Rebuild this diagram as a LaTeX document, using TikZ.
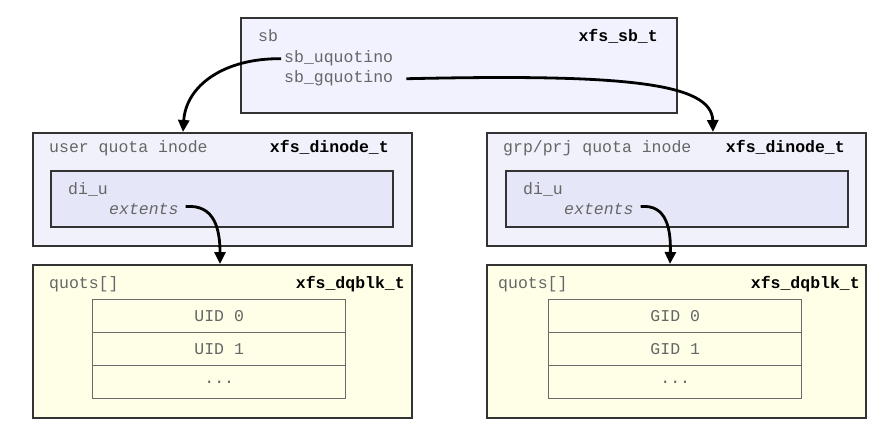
\documentclass[tikz,border=0pt]{standalone}
\usepackage{fontspec}
\setmonofont{Liberation Mono}
\usetikzlibrary{arrows.meta,calc}
\definecolor{sbfill}{HTML}{F2F2FE}
\definecolor{inofill}{HTML}{F1F1FC}
\definecolor{innerfill}{HTML}{E5E7F8}
\definecolor{qfill}{HTML}{FFFFE8}
\definecolor{txtgray}{HTML}{666666}
\definecolor{boxline}{HTML}{333333}
\definecolor{rowline}{HTML}{6A6A6A}
\tikzset{
  box/.style={draw=boxline, line width=1.6pt, rectangle, inner sep=0pt, anchor=north west},
  rowbox/.style={draw=rowline, line width=1.4pt, fill=qfill, rectangle, inner sep=0pt, anchor=north west,
     minimum width=253pt, minimum height=33pt, font=\ttfamily\fontsize{16.5}{18}\selectfont, text=txtgray},
  lbl/.style={anchor=base west, inner sep=1pt, font=\ttfamily\fontsize{16.5}{18}\selectfont, text=txtgray},
  typ/.style={anchor=base east, inner sep=1pt, font=\ttfamily\bfseries\fontsize{16.5}{18}\selectfont, text=black},
  arr/.style={line width=2.8pt, -{Triangle[width=11pt,length=12pt]}},
}
\begin{document}
\begin{tikzpicture}[x=1pt,y=-1pt]
\useasboundingbox (0,0) rectangle (877,425);
% top superblock
\node[box, fill=sbfill, minimum width=436pt, minimum height=95pt] (sb) at (240,17) {};
\node[lbl] (sbl) at (257,42) {sb};
\node[typ] (sbt) at (659,42) {xfs\_sb\_t};
\node[lbl] (uq) at (283,63) {sb\_uquotino};
\node[lbl] (gq) at (283,83) {sb\_gquotino};
% left inode
\node[box, fill=inofill, minimum width=379pt, minimum height=113pt] (li) at (32,132) {};
\node[lbl] (lil) at (48,152) {user quota inode};
\node[typ] (lit) at (390,152) {xfs\_dinode\_t};
\node[box, fill=innerfill, minimum width=342pt, minimum height=56pt] (lin) at (50,170) {};
\node[lbl] (ldi) at (67,194) {di\_u};
\node[lbl] (lex) at (108,214) {\itshape extents};
% right inode
\node[box, fill=inofill, minimum width=379pt, minimum height=113pt] (ri) at (486,132) {};
\node[lbl] (ril) at (502,152) {grp/prj quota inode};
\node[typ] (rit) at (846,152) {xfs\_dinode\_t};
\node[box, fill=innerfill, minimum width=342pt, minimum height=56pt] (rin) at (505,170) {};
\node[lbl] (rdi) at (522,194) {di\_u};
\node[lbl] (rex) at (563,214) {\itshape extents};
% left quota
\node[box, fill=qfill, minimum width=379pt, minimum height=153pt] (lq) at (32,264) {};
\node[lbl] (lql) at (48,288) {quots[]};
\node[typ] (lqt) at (406,288) {xfs\_dqblk\_t};
\node[rowbox] (lr0) at (92,299) {UID 0};
\node[rowbox] (lr1) at (92,332) {UID 1};
\node[rowbox] (lr2) at (92,365) {...};
% right quota
\node[box, fill=qfill, minimum width=379pt, minimum height=153pt] (rq) at (486,264) {};
\node[lbl] (rql) at (497,288) {quots[]};
\node[typ] (rqt) at (861,288) {xfs\_dqblk\_t};
\node[rowbox] (rr0) at (548,299) {GID 0};
\node[rowbox] (rr1) at (548,332) {GID 1};
\node[rowbox] (rr2) at (548,365) {...};
% arrows
\draw[arr] ($(uq.west)+(-2,0)$) .. controls (225,58) and (186,85) .. ($(li.north west)+(151,0)$);
\draw[arr] ($(gq.east)+(12,0)$) .. controls (620,74) and (712,82) .. ($(ri.north west)+(227,0)$);
\draw[arr] ($(lex.east)+(6,-2)$) .. controls (215,204) and (220,230) .. ($(lq.north west)+(188,0)$);
\draw[arr] ($(rex.east)+(6,-2)$) .. controls (667,204) and (671,230) .. ($(rq.north west)+(184,0)$);
\end{tikzpicture}
\end{document}
